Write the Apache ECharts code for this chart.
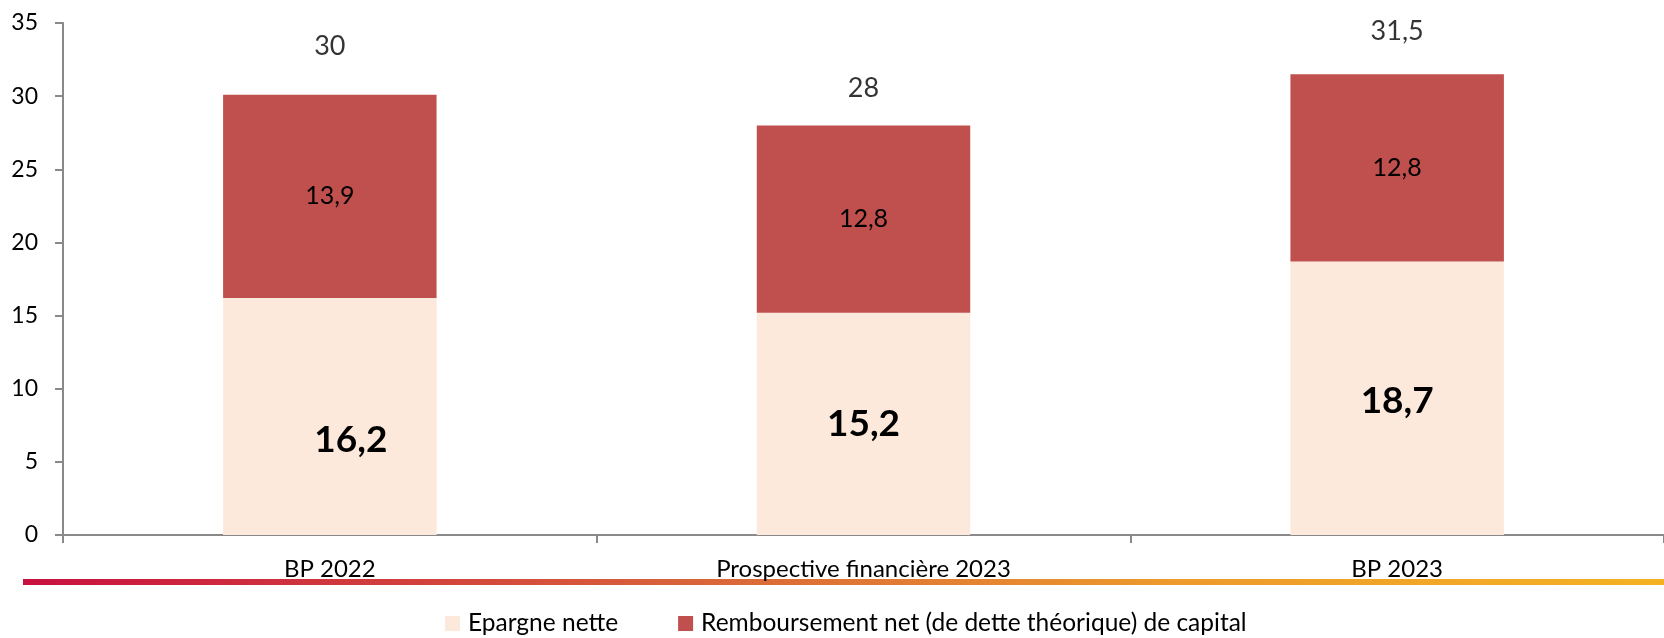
<!DOCTYPE html>
<html>
<head>
<meta charset="utf-8">
<script src="https://cdn.jsdelivr.net/npm/echarts@6/dist/echarts.min.js"></script>
<style>
html,body{margin:0;padding:0;background:#fff;}
#c{width:1664px;height:638px;}
</style>
</head>
<body>
<div id="c"></div>
<script>
const categories = ['BP 2022', 'Prospective financière 2023', 'BP 2023'];
const epargneNette = [16.2, 15.2, 18.7];
const remboursement = [13.9, 12.8, 12.8];
const totals = [30, 28, 31.5];
const seriesNames = ['Epargne nette', 'Remboursement net (de dette théorique) de capital'];
const yTicks = { min: 0, max: 35, interval: 5 };

const FONT = 'Lato';
const fmt = v => String(v).replace('.', ',');
// label nudges (style only) to mimic the original's label placement
const epargneLabelOffsets = [[21, 24], [0, 0], [0, 3]];
const totalLabelOffsets = [[0, -7], [0, 5], [0, 0]];

const chart = echarts.init(document.getElementById('c'));
chart.setOption({
  animation: false,
  textStyle: { fontFamily: FONT, color: '#000' },
  grid: { left: 63, right: -10, top: 23, bottom: 103, containLabel: false },
  xAxis: {
    type: 'category',
    data: categories,
    axisLine: { lineStyle: { color: '#898989', width: 2 } },
    axisTick: { show: true, length: 8, lineStyle: { color: '#898989', width: 2 } },
    axisLabel: { fontFamily: FONT, fontSize: 24, color: '#000', margin: 22 }
  },
  yAxis: {
    type: 'value',
    min: yTicks.min, max: yTicks.max, interval: yTicks.interval,
    splitLine: { show: false },
    axisLine: { show: true, lineStyle: { color: '#898989', width: 2 } },
    axisTick: { show: true, length: 8, lineStyle: { color: '#898989', width: 2 } },
    axisLabel: { fontFamily: FONT, fontSize: 23, color: '#000', margin: 25 }
  },
  legend: {
    data: seriesNames,
    left: 445, top: 611, padding: 0,
    icon: 'rect', itemWidth: 15, itemHeight: 15, itemGap: 60,
    textStyle: { fontFamily: FONT, fontSize: 24.5, color: '#000', padding: [0, 0, 0, 3] }
  },
  graphic: [{
    type: 'rect',
    shape: { x: 23, y: 579, width: 1641, height: 6 },
    style: {
      fill: new echarts.graphic.LinearGradient(0, 0, 1, 0, [
        { offset: 0, color: '#C8103F' },
        { offset: 0.4, color: '#D8623A' },
        { offset: 0.7, color: '#EC9A2C' },
        { offset: 1, color: '#F4B223' }
      ])
    },
    silent: true
  }],
  series: [
    {
      name: seriesNames[0], type: 'bar', stack: 't', barWidth: '40%',
      data: epargneNette.map((v, i) => ({ value: v, label: { offset: epargneLabelOffsets[i] } })),
      itemStyle: { color: '#FCE9DB' },
      label: { show: true, position: 'inside', fontFamily: FONT, fontSize: 37, fontWeight: 'bold', color: '#000', formatter: p => fmt(p.value) }
    },
    {
      name: seriesNames[1], type: 'bar', stack: 't', barWidth: '40%',
      data: remboursement,
      itemStyle: { color: '#C0504D' },
      label: { show: true, position: 'inside', fontFamily: FONT, fontSize: 25, color: '#000', formatter: p => fmt(p.value) }
    },
    {
      name: 'Total', type: 'scatter', symbolSize: 0,
      data: totals.map((v, i) => ({ value: v, label: { offset: totalLabelOffsets[i] } })),
      label: { show: true, position: 'top', distance: 29, fontFamily: FONT, fontSize: 27, color: '#000', formatter: p => fmt(p.value) },
      silent: true
    }
  ]
});
</script>
</body>
</html>
